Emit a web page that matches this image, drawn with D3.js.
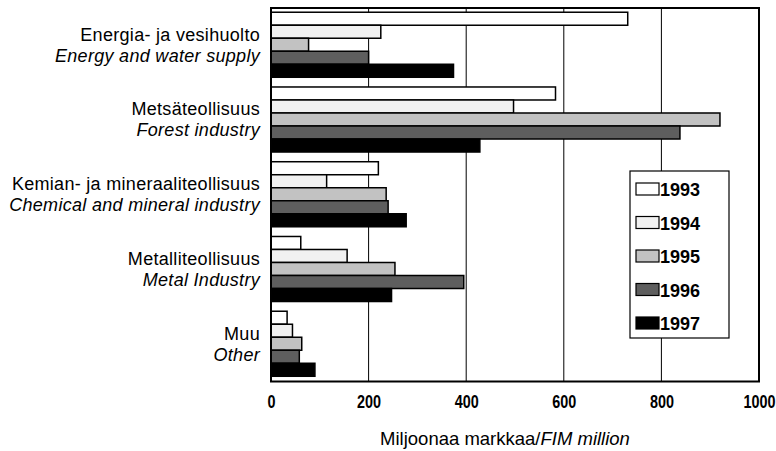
<!DOCTYPE html>
<html>
<head>
<meta charset="utf-8">
<script src="https://cdn.jsdelivr.net/npm/d3@7"></script>
<style>
  body { margin: 0; background: #fff; }
  svg { display: block; }
  .cat { font-family: "Liberation Sans", Arial, sans-serif; font-size: 18px; letter-spacing: 0.3px; fill: #000; }
  .tick text { font-family: "Liberation Sans Narrow", "Liberation Sans", sans-serif; font-weight: bold; font-size: 18px; }
  .legend text { font-family: "Liberation Sans Narrow", "Liberation Sans", sans-serif; font-weight: bold; font-size: 18px; }
  .title { font-family: "Liberation Sans", Arial, sans-serif; font-size: 18.5px; }
</style>
</head>
<body>
<svg id="chart" width="776" height="451"></svg>
<script>
// categories (Finnish / English) and yearly values, FIM million
const categoriesFi = ["Energia- ja vesihuolto", "Metsäteollisuus", "Kemian- ja mineraaliteollisuus", "Metalliteollisuus", "Muu"];
const categoriesEn = ["Energy and water supply", "Forest industry", "Chemical and mineral industry", "Metal Industry", "Other"];
const years = ["1993", "1994", "1995", "1996", "1997"];
const values1993 = [731, 583, 220, 61, 33];
const values1994 = [225, 497, 114, 156, 44];
const values1995 = [77, 920, 236, 254, 63];
const values1996 = [200, 838, 240, 395, 58];
const values1997 = [374, 428, 277, 247, 90];
const xTicks = [0, 200, 400, 600, 800, 1000];

const seriesByYear = [values1993, values1994, values1995, values1996, values1997];
const yearFill = ["#ffffff", "#f1f1f1", "#c2c2c2", "#5e5e5e", "#000000"];

const svg = d3.select("#chart");
const plotLeft = 271, plotRight = 759, plotTop = 8, plotBottom = 381.5;

const x = d3.scaleLinear().domain([0, 1000]).range([plotLeft, plotRight]);
const y = d3.scaleBand().domain(d3.range(categoriesFi.length)).range([plotTop - 1, plotBottom])
    .paddingInner(0.13).paddingOuter(0.07);
const yInner = d3.scaleBand().domain(years).range([0, y.bandwidth()]);
const color = d3.scaleOrdinal().domain(years).range(yearFill);

// vertical grid lines
svg.append("g").selectAll("line")
    .data(xTicks.slice(1, -1)).join("line")
    .attr("x1", d => x(d)).attr("x2", d => x(d))
    .attr("y1", plotTop).attr("y2", plotBottom)
    .attr("stroke", "#000").attr("stroke-width", 1);

// bars
const rows = [];
years.forEach((yr, j) => {
    seriesByYear[j].forEach((v, i) => rows.push({ cat: i, year: yr, value: v }));
});
svg.append("g").selectAll("rect")
    .data(rows).join("rect")
    .attr("x", x(0))
    .attr("y", d => y(d.cat) + yInner(d.year))
    .attr("width", d => x(d.value) - x(0))
    .attr("height", yInner.bandwidth())
    .attr("fill", d => color(d.year))
    .attr("stroke", "#000").attr("stroke-width", 1.5);

// plot frame
svg.append("rect")
    .attr("x", plotLeft).attr("y", plotTop)
    .attr("width", plotRight - plotLeft).attr("height", plotBottom - plotTop)
    .attr("fill", "none").attr("stroke", "#000").attr("stroke-width", 2);

// category labels
const labels = svg.append("g").attr("class", "cat").attr("text-anchor", "end");
categoriesFi.forEach((name, i) => {
    const cy = y(i) + y.bandwidth() / 2;
    labels.append("text").attr("x", plotLeft - 11).attr("y", cy - 4).text(name);
    labels.append("text").attr("x", plotLeft - 11).attr("y", cy + 17).attr("font-style", "italic").text(categoriesEn[i]);
});

// x axis
const xAxis = d3.axisBottom(x).tickValues(xTicks).tickSize(0).tickPadding(14).tickFormat(d3.format("d"));
const ax = svg.append("g").attr("transform", `translate(0,${plotBottom})`).call(xAxis);
ax.select(".domain").remove();
ax.selectAll(".tick text").attr("fill", "#000").attr("transform", "scale(0.8,1)");

// axis title
const title = svg.append("text").attr("class", "title")
    .attr("x", 505).attr("y", 445).attr("text-anchor", "middle");
title.append("tspan").text("Miljoonaa markkaa/");
title.append("tspan").attr("font-style", "italic").text("FIM million");

// legend
const legend = svg.append("g").attr("class", "legend");
legend.append("rect")
    .attr("x", 630).attr("y", 171).attr("width", 99).attr("height", 167)
    .attr("fill", "#fff").attr("stroke", "#000").attr("stroke-width", 1.2);
const ly = d3.scalePoint().domain(years).range([189, 323]);
const item = legend.selectAll("g.item").data(years).join("g").attr("class", "item");
item.append("rect")
    .attr("x", 636).attr("y", d => ly(d) - 6)
    .attr("width", 23).attr("height", 12)
    .attr("fill", d => color(d)).attr("stroke", "#000").attr("stroke-width", 1.2);
item.append("text")
    .attr("x", 660).attr("y", d => ly(d) + 7)
    .text(d => d);
</script>
</body>
</html>
